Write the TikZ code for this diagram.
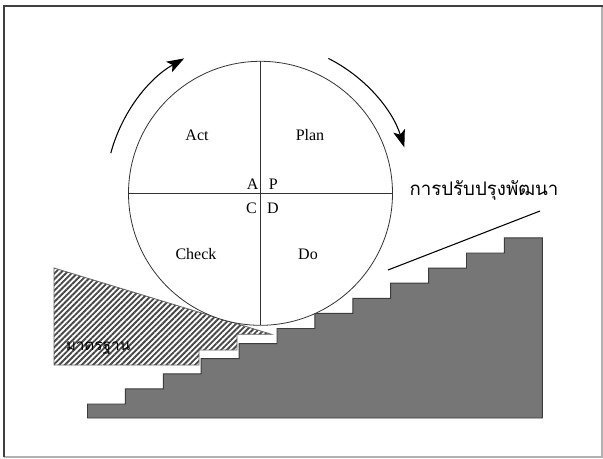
\documentclass[tikz,border=0pt]{standalone}
\usepackage{fontspec}
\setmainfont{Liberation Serif}
\newfontfamily\thaifont[Script=Thai]{Loma}
\usetikzlibrary{arrows.meta,patterns.meta}
\definecolor{stairgray}{HTML}{767676}
\definecolor{edgegray}{HTML}{3C3C3C}
\begin{document}
\begin{tikzpicture}[x=0.75pt,y=0.75pt,
  lbl/.style={font=\fontsize{12}{14}\selectfont, inner sep=0pt},
  thaibig/.style={font=\thaifont\fontsize{14}{16}\selectfont, inner sep=0pt},
  thaismall/.style={font=\thaifont\fontsize{11.5}{13}\selectfont, inner sep=0pt},
  cyc/.style={line width=0.8pt, -{Stealth[length=13pt,width=9pt,inset=3pt]}},
  quarter/.style={draw=black!80, line width=0.8pt}]
\useasboundingbox (0,0) rectangle (603,458);
\fill[white] (0,0) rectangle (603,458);
% frame
\draw[line width=1pt, black!30] (4,1) -- (602,1) -- (602,452);
\draw[line width=1.3pt, black!75] (4,1) -- (4,452) -- (603,452);
% staircase
\draw[fill=stairgray, draw=edgegray, line width=0.7pt]
  (87.5,40) \foreach \i in {0,...,11} { -- ({87.5+37.9*\i},{54+15.1*\i}) -- ({87.5+37.9*(\i+1)},{54+15.1*\i}) }
  -- (542.3,40) -- cycle;
% hatched standard block
\draw[pattern={Lines[angle=45,distance=3pt,line width=1.4pt]}, pattern color=black!72, draw=black!60, line width=0.6pt]
  (54,190) -- (271.5,123.7) -- (237,123.7) -- (237,108) -- (199,108) -- (199,93) -- (54,93) -- cycle;
% circle
\coordinate (O) at (260.5,264.7);
\draw[fill=white, draw=black!80, line width=0.6pt] (O) circle[radius=99pt];
\coordinate (T) at (260.5,396.7);
\coordinate (B) at (260.5,132.7);
\coordinate (L) at (128.5,264.7);
\coordinate (R) at (392.5,264.7);
\draw[quarter] (T) -- (B);
\draw[quarter] (L) -- (R);
% labels
\node[lbl] (act) at (197,323) {Act};
\node[lbl] (plan) at (310,323) {Plan};
\node[lbl] (a) at (252.7,273.7) {A};
\node[lbl] (p) at (273.3,273.7) {P};
\node[lbl] (c) at (251.5,250) {C};
\node[lbl] (d) at (273,250) {D};
\node[lbl] (check) at (196,204) {Check};
\node[lbl] (do) at (308,204) {Do};
% cycle arrows
\draw[cyc] (O) ++(165:155) arc[start angle=165, end angle=119.5, radius=116.25pt];
\draw[cyc] (O) ++(63.3:151) arc[start angle=63.3, end angle=17.7, radius=113.25pt];
% improvement
\node[thaibig] (improve) at (484,267.5) {การปรับปรุงพัฒนา};
\coordinate (s1) at (388,188);
\coordinate (s2) at (540,247);
\draw[line width=0.8pt, black] (s1) -- (s2);
\node[thaismall] (standard) at (98,110) {มาตรฐาน};
\end{tikzpicture}
\end{document}
